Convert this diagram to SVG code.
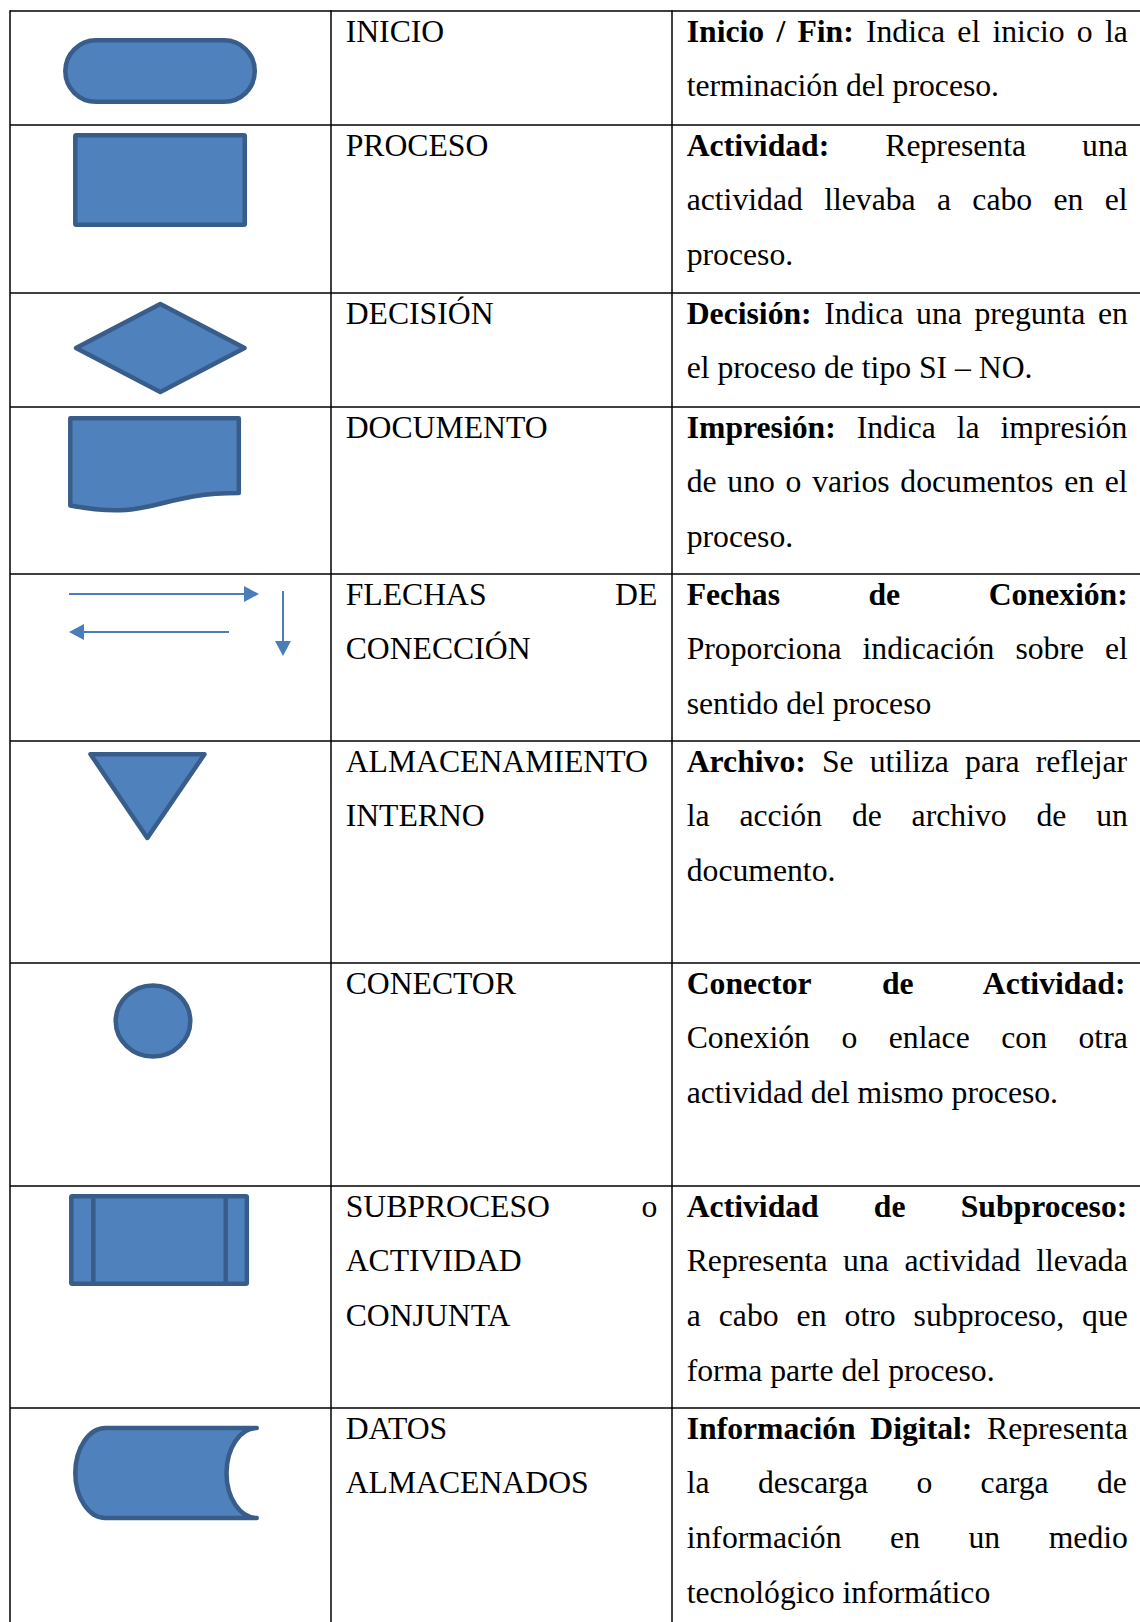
<svg xmlns="http://www.w3.org/2000/svg" width="1140" height="1622" viewBox="0 0 1140 1622">
  <style>
    .t { font-family: "Liberation Serif", "Times New Roman", serif; font-size: 31.7px; fill: #000; }
    .b { font-weight: bold; }
    .shape { fill: #4F81BD; stroke: #385D8A; stroke-width: 4.5; stroke-linejoin: round; }
    .arrow { fill: none; stroke: #4A7EBB; stroke-width: 2; }
    .grid line { stroke: #000; stroke-width: 1.5; }
  </style>
  <defs>
    <marker id="head" viewBox="0 0 15 16" refX="0" refY="8" markerWidth="15" markerHeight="16" markerUnits="userSpaceOnUse" orient="auto">
      <path d="M0,0 L15,8 L0,16 Z" fill="#4A7EBB"/>
    </marker>
  </defs>
  <rect width="1140" height="1622" fill="#fff"/>

  <!-- table rules -->
  <g id="grid" class="grid">
    <line x1="10" y1="11" x2="1140" y2="11"/>
    <line x1="10" y1="125" x2="1140" y2="125"/>
    <line x1="10" y1="293" x2="1140" y2="293"/>
    <line x1="10" y1="407" x2="1140" y2="407"/>
    <line x1="10" y1="574" x2="1140" y2="574"/>
    <line x1="10" y1="741" x2="1140" y2="741"/>
    <line x1="10" y1="963" x2="1140" y2="963"/>
    <line x1="10" y1="1186" x2="1140" y2="1186"/>
    <line x1="10" y1="1408" x2="1140" y2="1408"/>
    <line x1="10" y1="10.25" x2="10" y2="1622"/>
    <line x1="331" y1="10.25" x2="331" y2="1622"/>
    <line x1="672" y1="10.25" x2="672" y2="1622"/>
  </g>

  <!-- Inicio / Fin -->
  <g id="row-inicio">
    <rect class="shape" x="65.3" y="40.3" width="189.5" height="61.5" rx="30.75"/>
    <text class="t" x="345.7" y="41.5">INICIO</text>
    <text class="t" x="686.7" y="41.5" style="word-spacing:4.3px"><tspan class="b">Inicio / Fin:</tspan> Indica el inicio o la</text>
    <text class="t" x="686.7" y="96.2">terminación del proceso.</text>
  </g>

  <!-- Proceso -->
  <g id="row-proceso">
    <rect class="shape" x="75.3" y="135.3" width="169.5" height="89.5" rx="1"/>
    <text class="t" x="345.7" y="155.5">PROCESO</text>
    <text class="t" x="686.7" y="155.5" style="word-spacing:48.1px"><tspan class="b">Actividad:</tspan> Representa una</text>
    <text class="t" x="686.7" y="210.2" style="word-spacing:13.4px">actividad llevaba a cabo en el</text>
    <text class="t" x="686.7" y="264.9">proceso.</text>
  </g>

  <!-- Decisión -->
  <g id="row-decision">
    <path class="shape" d="M76,348 L160.3,304 L244.6,348 L160.3,392 Z"/>
    <text class="t" x="345.7" y="323.5">DECISIÓN</text>
    <text class="t" x="686.7" y="323.5" style="word-spacing:4.7px"><tspan class="b">Decisión:</tspan> Indica una pregunta en</text>
    <text class="t" x="686.7" y="378.2">el proceso de tipo SI – NO.</text>
  </g>

  <!-- Documento -->
  <g id="row-documento">
    <path class="shape" d="M70.3,418.3 H238.8 V493 C154.5,493 154.5,521.5 70.3,505.5 Z"/>
    <text class="t" x="345.7" y="437.5">DOCUMENTO</text>
    <text class="t" x="686.7" y="437.5" style="word-spacing:13px"><tspan class="b">Impresión:</tspan> Indica la impresión</text>
    <text class="t" x="686.7" y="492.2" style="word-spacing:2.8px">de uno o varios documentos en el</text>
    <text class="t" x="686.7" y="546.9">proceso.</text>
  </g>

  <!-- Flechas de conexión -->
  <g id="row-flechas">
    <g id="connectors">
      <line class="arrow" x1="69" y1="594" x2="244" y2="594" marker-end="url(#head)"/>
      <line class="arrow" x1="229" y1="632" x2="84" y2="632" marker-end="url(#head)"/>
      <line class="arrow" x1="283" y1="591" x2="283" y2="641" marker-end="url(#head)"/>
    </g>
    <text class="t" x="345.7" y="604.5">FLECHAS</text>
    <text class="t" x="657.3" y="604.5" text-anchor="end">DE</text>
    <text class="t" x="345.7" y="659.2">CONECCIÓN</text>
    <text class="t b" x="686.7" y="604.5" style="word-spacing:80.6px">Fechas de Conexión:</text>
    <text class="t" x="686.7" y="659.2" style="word-spacing:13px">Proporciona indicación sobre el</text>
    <text class="t" x="686.7" y="713.9">sentido del proceso</text>
  </g>

  <!-- Almacenamiento interno -->
  <g id="row-almacenamiento">
    <path class="shape" d="M90.5,754.2 L204.5,754.2 L147.3,838 Z"/>
    <text class="t" x="345.7" y="771.5">ALMACENAMIENTO</text>
    <text class="t" x="345.7" y="826.2">INTERNO</text>
    <text class="t" x="686.7" y="771.5" style="word-spacing:8.2px"><tspan class="b">Archivo:</tspan> Se utiliza para reflejar</text>
    <text class="t" x="686.7" y="826.2" style="word-spacing:21.9px">la acción de archivo de un</text>
    <text class="t" x="686.7" y="880.9">documento.</text>
  </g>

  <!-- Conector -->
  <g id="row-conector">
    <ellipse class="shape" cx="153" cy="1021" rx="37.3" ry="35.5"/>
    <text class="t" x="345.7" y="993.5">CONECTOR</text>
    <text class="t b" x="686.7" y="993.5" style="word-spacing:63px">Conector de Actividad:</text>
    <text class="t" x="686.7" y="1048.2" style="word-spacing:23.6px">Conexión o enlace con otra</text>
    <text class="t" x="686.7" y="1102.9">actividad del mismo proceso.</text>
  </g>

  <!-- Subproceso -->
  <g id="row-subproceso">
    <rect class="shape" x="71.3" y="1196.3" width="175.5" height="87.5" rx="1"/>
    <line x1="93.3" y1="1196.3" x2="93.3" y2="1283.8" stroke="#385D8A" stroke-width="4.5"/>
    <line x1="225.7" y1="1196.3" x2="225.7" y2="1283.8" stroke="#385D8A" stroke-width="4.5"/>
    <text class="t" x="345.7" y="1216.5">SUBPROCESO</text>
    <text class="t" x="657.3" y="1216.5" text-anchor="end">o</text>
    <text class="t" x="345.7" y="1271.2">ACTIVIDAD</text>
    <text class="t" x="345.7" y="1325.9">CONJUNTA</text>
    <text class="t b" x="686.7" y="1216.5" style="word-spacing:47.2px">Actividad de Subproceso:</text>
    <text class="t" x="686.7" y="1271.2" style="word-spacing:7.7px">Representa una actividad llevada</text>
    <text class="t" x="686.7" y="1325.9" style="word-spacing:10.1px">a cabo en otro subproceso, que</text>
    <text class="t" x="686.7" y="1380.6">forma parte del proceso.</text>
  </g>

  <!-- Datos almacenados -->
  <g id="row-datos">
    <path class="shape" stroke-linecap="round" d="M105.5,1428 H256.7 A30.2,45 0 0 0 256.7,1518 H105.5 A30.2,45 0 0 1 105.5,1428 Z"/>
    <text class="t" x="345.7" y="1438.5">DATOS</text>
    <text class="t" x="345.7" y="1493.2">ALMACENADOS</text>
    <text class="t" x="686.7" y="1438.5" style="word-spacing:6.7px"><tspan class="b">Información Digital:</tspan> Representa</text>
    <text class="t" x="686.7" y="1493.2" style="word-spacing:40.4px">la descarga o carga de</text>
    <text class="t" x="686.7" y="1547.9" style="word-spacing:40.6px">información en un medio</text>
    <text class="t" x="686.7" y="1602.6">tecnológico informático</text>
  </g>
</svg>
